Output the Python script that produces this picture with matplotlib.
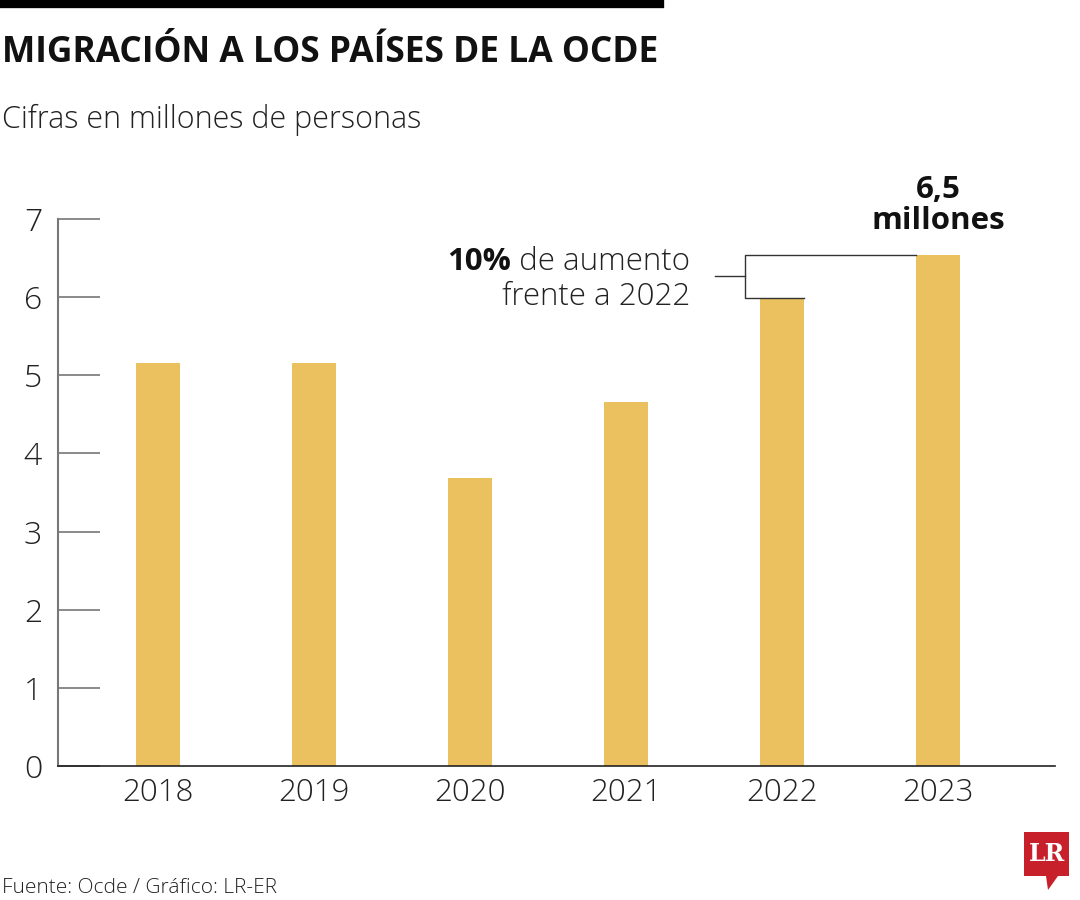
import matplotlib
matplotlib.use("Agg")
import matplotlib.pyplot as plt
from matplotlib.patches import Rectangle, Polygon
from matplotlib.lines import Line2D

years = ["2018", "2019", "2020", "2021", "2022", "2023"]
values = [5.16, 5.16, 3.69, 4.66, 5.99, 6.54]
yticks = [0, 1, 2, 3, 4, 5, 6, 7]

BAR = "#EAC15E"
FONT = ["Open Sans", "DejaVu Sans"]
plt.rcParams['font.family'] = FONT

W, H = 1080, 900
fig = plt.figure(figsize=(W/100, H/100), dpi=100)
fig.patch.set_facecolor("white")

def fx(px): return px / W
def fy(py): return 1 - py / H

ax = fig.add_axes([fx(58), fy(766), fx(1055) - fx(58), fy(219) - fy(766)])
x = list(range(len(years)))
ax.bar(x, values, width=0.28, color=BAR, zorder=2)
ax.set_xlim(-0.641, 5.75)
ax.set_ylim(0, 7)
ax.set_xticks(x)
ax.set_xticklabels(years, fontsize=22.5, fontweight='light', color="#222222")
ax.set_yticks(yticks)
ax.set_yticklabels([str(t) for t in yticks], fontsize=23, fontweight='light', color="#222222")
ax.tick_params(axis='x', length=0, pad=8)
ax.tick_params(axis='y', direction='in', length=30, width=1.2, color="#777777")
for s in ["top", "right"]:
    ax.spines[s].set_visible(False)
ax.spines["left"].set_color("#777777")
ax.spines["left"].set_linewidth(1.5)
ax.spines["bottom"].set_color("#222222")
ax.spines["bottom"].set_linewidth(1.2)
ax.yaxis.set_tick_params(pad=18)
for lbl in ax.get_yticklabels():
    lbl.set_horizontalalignment('center')

# bracket annotation
bw = 0.28
bx = 4 - bw/2 - 0.1
ax.plot([5 - bw/2, bx, bx, 4 + bw/2], [values[5], values[5], values[4], values[4]],
        color="#333333", lw=1.0, zorder=3, clip_on=False)
ym = (values[5] + values[4]) / 2
ax.plot([bx - 0.19, bx], [ym, ym], color="#333333", lw=1.0, zorder=3, clip_on=False)

fig.text(fx(938), fy(198), "6,5", ha='center', va='baseline', fontsize=22.5,
         fontweight='bold', color="#111111")
fig.text(fx(938), fy(229), "millones", ha='center', va='baseline', fontsize=22.5,
         fontweight='bold', color="#111111")

# "10% de aumento" line
t1 = fig.text(fx(690), fy(270), " de aumento", ha='right', va='baseline', fontsize=22.5,
              fontweight='light', color="#222222")
fig.canvas.draw()
bb = t1.get_window_extent()
fig.text(bb.x0 / W, fy(270), "10%", ha='right', va='baseline', fontsize=22.5,
         fontweight='bold', color="#111111")
fig.text(fx(690), fy(305), "frente a 2022", ha='right', va='baseline', fontsize=22.5,
         fontweight='light', color="#222222")

# header
fig.add_artist(Line2D([0, fx(660)], [fy(4), fy(4)], color="black", lw=6))
fig.text(fx(2), fy(62), "MIGRACIÓN A LOS PAÍSES DE LA OCDE", ha='left', va='baseline',
         fontsize=25.5, fontweight='bold', color="#111111")
fig.text(fx(2), fy(128), "Cifras en millones de personas", ha='left', va='baseline',
         fontsize=22, fontweight='light', color="#222222")

# footer
fig.text(fx(2), fy(893), "Fuente: Ocde / Gráfico: LR-ER", ha='left', va='baseline',
         fontsize=15, fontweight='light', color="#222222")
# LR logo
fig.add_artist(Rectangle((fx(1024), fy(876)), fx(1069) - fx(1024), fy(832) - fy(876),
                         facecolor="#C8202A", edgecolor='none'))
fig.add_artist(Polygon([(fx(1046), fy(876)), (fx(1058), fy(876)), (fx(1048), fy(890))],
                       closed=True, facecolor="#C8202A", edgecolor='none'))
fig.text(fx(1046.5), fy(854), "LR", ha='center', va='center', fontsize=17,
         fontweight='bold', color="white", family=["DejaVu Serif"])

fig.savefig("out.png", dpi=100, facecolor="white")
